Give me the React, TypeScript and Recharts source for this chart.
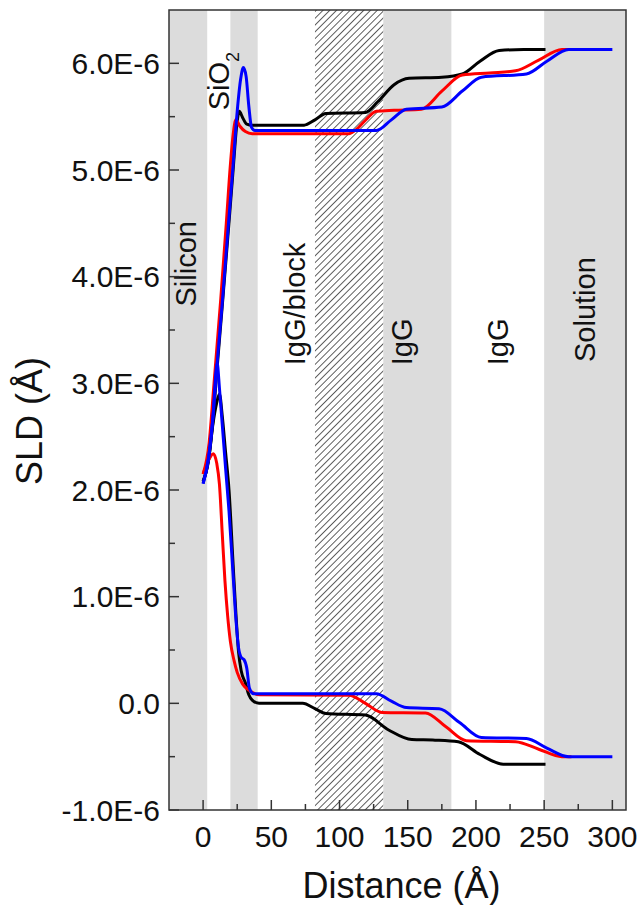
import { LineChart, Line, XAxis, YAxis, ReferenceArea, ReferenceDot } from "recharts";

const FONT = '"Liberation Sans", Arial, Helvetica, sans-serif';

// [distance (Å), SLD (x1E-6)]
const blackHigh = [
  [0, 2.08], [4, 2.28], [7, 2.62], [10.3, 3.15], [14, 3.72], [18, 4.35], [22, 5.0], [24.5, 5.4],
  [26.5, 5.55], [29, 5.49], [32, 5.43], [36, 5.42], [74, 5.42], [82, 5.47], [90, 5.53], [119, 5.54],
  [128, 5.64], [140, 5.8], [151, 5.86], [175, 5.87], [190, 5.9], [203, 6.02], [217, 6.12], [235, 6.13],
  [251, 6.13],
];
const blackLow = [
  [0, 2.08], [4, 2.28], [7, 2.6], [10, 2.82], [12, 2.9], [14, 2.7], [16.5, 2.35], [19, 2.0],
  [22, 1.3], [24, 0.85], [26, 0.48], [28, 0.3], [31, 0.19], [33.5, 0.08], [36, 0.03], [41, 0.0],
  [73, 0.0], [82, -0.05], [90, -0.095], [119, -0.11], [136, -0.25], [153, -0.34], [170, -0.345],
  [187, -0.36], [203, -0.48], [220, -0.57], [251, -0.57],
];
const redHigh = [
  [0, 2.15], [4.4, 2.44], [8, 3.0], [13, 3.8], [17, 4.5], [20, 5.05], [22, 5.33], [24, 5.47],
  [27, 5.41], [31, 5.36], [36, 5.34], [107, 5.34], [114, 5.4], [120, 5.48], [127, 5.55], [140, 5.56],
  [160, 5.57], [175, 5.74], [190, 5.89], [210, 5.91], [229, 5.93], [246, 6.03], [263, 6.13], [270, 6.13],
];
const redLow = [
  [0, 2.15], [4, 2.28], [7.5, 2.34], [10, 2.25], [12, 2.05], [14, 1.6], [16, 1.15], [18, 0.82],
  [20, 0.58], [22.7, 0.4], [25, 0.29], [29, 0.18], [34, 0.12], [41, 0.08], [107, 0.075], [119, 0.0],
  [131, -0.085], [163, -0.09], [178, -0.22], [193, -0.35], [229, -0.36], [246, -0.43], [263, -0.5],
  [270, -0.5],
];
const blueHigh = [
  [0, 2.06], [4, 2.3], [7, 2.65], [10.3, 3.19], [14, 3.75], [18, 4.4], [22, 5.05], [25, 5.55],
  [27.5, 5.85], [29.5, 5.96], [31.5, 5.88], [33.5, 5.6], [35.5, 5.4], [38, 5.37], [127, 5.37],
  [138, 5.47], [149, 5.57], [175, 5.59], [190, 5.74], [204, 5.87], [237, 5.9], [252, 6.02],
  [268, 6.13], [300, 6.13],
];
const blueLow = [
  [0, 2.06], [4, 2.3], [7, 2.65], [10.3, 3.19], [12, 2.95], [14, 2.62], [16.5, 2.2], [19, 1.8],
  [22, 1.2], [24, 0.8], [26, 0.52], [28, 0.43], [30, 0.41], [32, 0.33], [34, 0.14], [37, 0.09],
  [127, 0.09], [138, 0.02], [149, -0.04], [173, -0.05], [188, -0.18], [204, -0.32], [237, -0.33],
  [252, -0.42], [268, -0.5], [300, -0.5],
];

const xTicks = [0, 25, 50, 75, 100, 125, 150, 175, 200, 225, 250, 275, 300];
const yTicks = [-1, -0.5, 0, 0.5, 1, 1.5, 2, 2.5, 3, 3.5, 4, 4.5, 5, 5.5, 6];

const grayBands = [[-25, 3], [20, 40], [132, 182], [250, 310]];
const hatchBand = [82, 132];

const regionLabels = [
  { text: "Silicon", x: -12.5, y: 3.72 },
  { text: "SiO2", x: 11.6, y: 5.56 },
  { text: "IgG/block", x: 67.4, y: 3.17 },
  { text: "IgG", x: 145.5, y: 3.17 },
  { text: "IgG", x: 215.8, y: 3.17 },
  { text: "Solution", x: 280, y: 3.2 },
];

const series = [
  { key: "bh", color: "#000000", pts: blackHigh },
  { key: "bl", color: "#000000", pts: blackLow },
  { key: "rh", color: "#ff0000", pts: redHigh },
  { key: "rl", color: "#ff0000", pts: redLow },
  { key: "uh", color: "#0000ff", pts: blueHigh },
  { key: "ul", color: "#0000ff", pts: blueLow },
];

const toPts = (a: number[][]) => a.map(([x, y]) => ({ x, y }));

const fmtY = (v: number) => (v === 0 ? "0.0" : `${v.toFixed(1)}E-6`);

function YTick(props: any) {
  const { x, y, payload } = props;
  const v = payload.value;
  const major = Math.abs(v - Math.round(v)) < 1e-9;
  const edge = x + 9;
  return (
    <g>
      <line x1={edge} x2={edge + (major ? 10 : 6)} y1={y} y2={y} stroke="#333" strokeWidth={1.5} />
      {major && (
        <text x={x} y={y} dy="0.35em" textAnchor="end" fontSize={30} fontFamily={FONT} fill="#111">
          {fmtY(v)}
        </text>
      )}
    </g>
  );
}

function XTick(props: any) {
  const { x, y, payload } = props;
  const v = payload.value;
  const major = v % 50 === 0;
  return (
    <g>
      <line x1={x} x2={x} y1={y} y2={y - (major ? 10 : 6)} stroke="#333" strokeWidth={1.5} />
      {major && (
        <text x={x} y={y + 37} textAnchor="middle" fontSize={30} fontFamily={FONT} fill="#111">
          {v}
        </text>
      )}
    </g>
  );
}

function rotLabel(text: string) {
  return (p: any) => {
    const vb = p.viewBox || {};
    const x = vb.x;
    const y = vb.y;
    if (x == null || y == null) return null;
    return (
      <text
        x={x}
        y={y}
        transform={`rotate(-90 ${x} ${y})`}
        textAnchor="start"
        dy="0.35em"
        fontSize={29}
        fontFamily={FONT}
        fill="#111"
      >
        {text === "SiO2" ? (
          <>
            SiO<tspan fontSize={18} baselineShift="sub">2</tspan>
          </>
        ) : (
          text
        )}
      </text>
    );
  };
}

const xTitle = (p: any) => {
  const { x, y, width } = p.viewBox;
  return (
    <text x={x + width / 2 + 4} y={y + 88} textAnchor="middle" fontSize={36} fontFamily={FONT} fill="#111">
      Distance (Å)
    </text>
  );
};

const yTitle = (p: any) => {
  const { x, y, height } = p.viewBox;
  const cx = x + 29;
  const cy = y + height / 2 + 11;
  return (
    <text
      x={cx}
      y={cy}
      transform={`rotate(-90 ${cx} ${cy})`}
      textAnchor="middle"
      dy="0.35em"
      fontSize={36}
      fontFamily={FONT}
      fill="#111"
    >
      SLD (Å)
    </text>
  );
};

export default function App() {
  return (
    <div style={{ position: "absolute", left: 0, top: 0, background: "#fff" }}>
      <LineChart width={639} height={905} margin={{ top: 10, right: 13, bottom: 0, left: 0 }}>
        <defs>
          <pattern id="hatch" patternUnits="userSpaceOnUse" width="4.8" height="4.8" patternTransform="rotate(45)">
            <rect width="4.8" height="4.8" fill="#fff" />
            <line x1="0" y1="0" x2="0" y2="4.8" stroke="#2a2a2a" strokeWidth="1.5" />
          </pattern>
        </defs>
        <XAxis
          dataKey="x"
          type="number"
          domain={[-25, 310]}
          allowDataOverflow
          ticks={xTicks}
          interval={0}
          height={95}
          axisLine={false}
          tickLine={false}
          tickSize={0}
          tickMargin={0}
          tick={(p: any) => <XTick {...p} />}
          label={{ content: xTitle }}
        />
        <YAxis
          type="number"
          domain={[-1, 6.5]}
          allowDataOverflow
          ticks={yTicks}
          interval={0}
          width={169}
          axisLine={false}
          tickLine={false}
          tickSize={0}
          tickMargin={9}
          tick={(p: any) => <YTick {...p} />}
          label={{ content: yTitle }}
        />
        {grayBands.map(([a, b]) => (
          <ReferenceArea key={`g${a}`} x1={a} x2={b} y1={-1} y2={6.5} fill="#dcdcdc" fillOpacity={1} stroke="none" />
        ))}
        <ReferenceArea x1={hatchBand[0]} x2={hatchBand[1]} y1={-1} y2={6.5} fill="url(#hatch)" fillOpacity={1} stroke="none" />
        {regionLabels.map((l) => (
          <ReferenceDot
            key={`${l.text}${l.x}`}
            x={l.x}
            y={l.y}
            r={0}
            fill="none"
            stroke="none"
            ifOverflow="visible"
            label={{ content: rotLabel(l.text) }}
          />
        ))}
        {series.map((s) => (
          <Line
            key={s.key}
            data={toPts(s.pts)}
            dataKey="y"
            type="monotone"
            stroke={s.color}
            strokeWidth={3}
            dot={false}
            activeDot={false}
            isAnimationActive={false}
          />
        ))}
        <ReferenceArea x1={-25} x2={310} y1={-1} y2={6.5} fill="none" stroke="#333" strokeWidth={1.5} />
      </LineChart>
    </div>
  );
}
